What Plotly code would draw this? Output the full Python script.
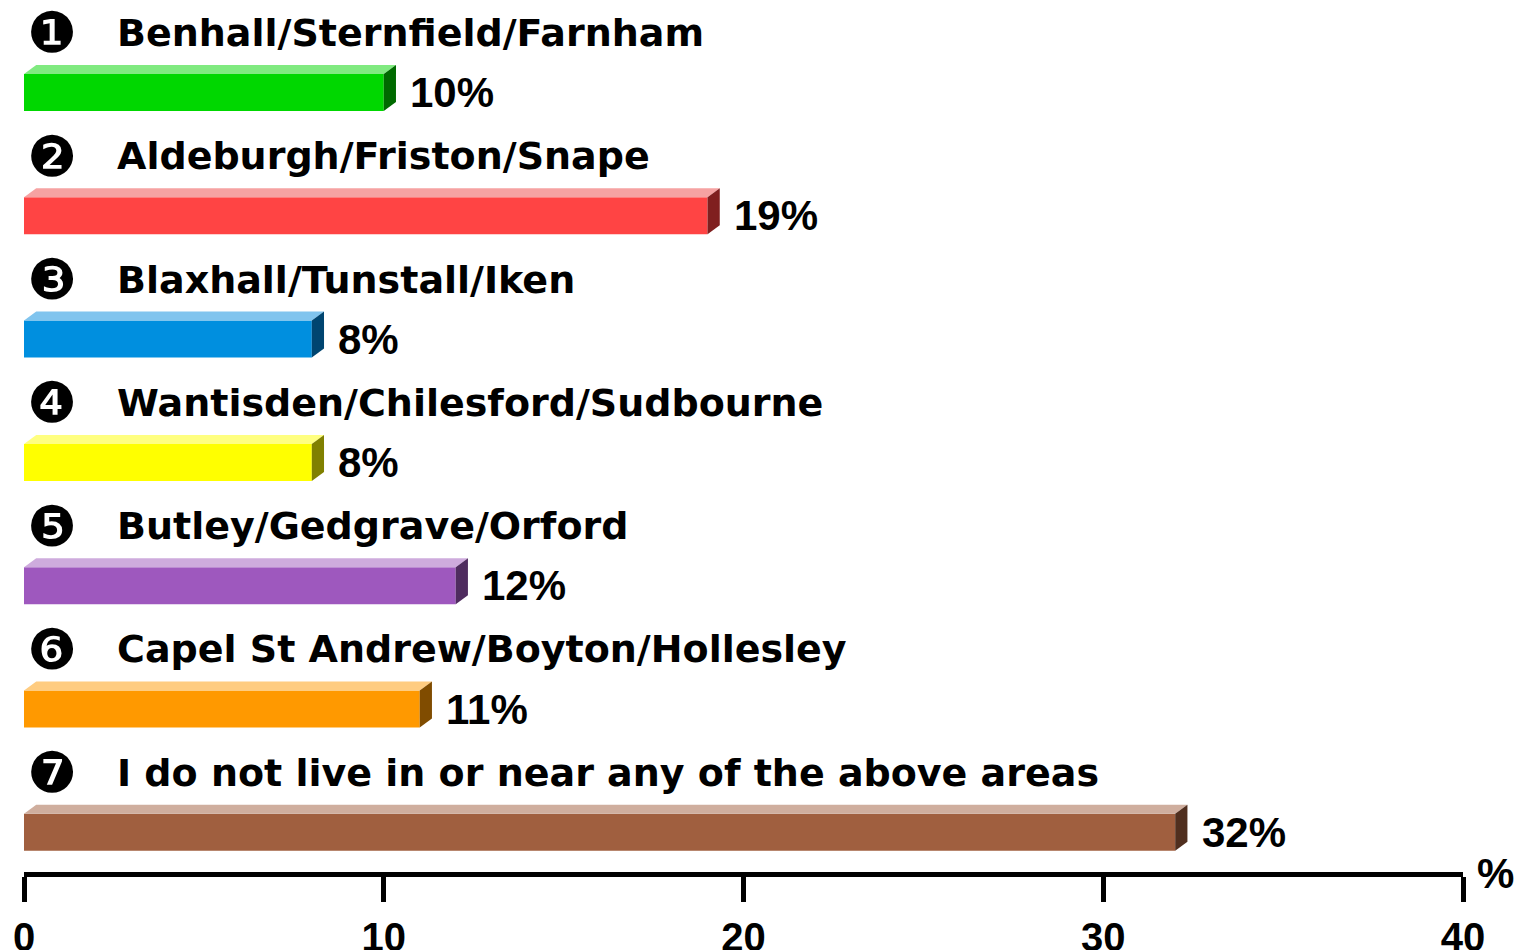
import plotly.graph_objects as go

# ---- data ----
categories = [
    "Benhall/Sternfield/Farnham",
    "Aldeburgh/Friston/Snape",
    "Blaxhall/Tunstall/Iken",
    "Wantisden/Chilesford/Sudbourne",
    "Butley/Gedgrave/Orford",
    "Capel St Andrew/Boyton/Hollesley",
    "I do not live in or near any of the above areas",
]
markers = ["❶", "❷", "❸", "❹", "❺", "❻", "❼"]
values = [10, 19, 8, 8, 12, 11, 32]
value_labels = ["10%", "19%", "8%", "8%", "12%", "11%", "32%"]
tick_values = [0, 10, 20, 30, 40]
tick_labels = ["0", "10", "20", "30", "40"]

front_colors = ["#00D700", "#FF4444", "#008FDF", "#FFFF00", "#9E58BE", "#FF9900", "#A05F3F"]
top_colors = ["#80EA80", "#F6A2A2", "#80C4EE", "#FFFF80", "#CEABDD", "#FFCC80", "#CFAE9E"]
side_colors = ["#006A00", "#801F1F", "#004570", "#808000", "#4F2C5F", "#804C00", "#502F1F"]

# ---- geometry (axis units) ----
H = 0.30      # bar thickness
DX = 0.34     # depth offset in x units
DY = 0.073    # depth offset in y units (reversed axis)
FONT = "Liberation Sans, Arial, sans-serif"
LABEL_FONT = "DejaVu Sans, Liberation Sans, sans-serif"

L, R, T, B = 24, 61, 0, 78
W, HT = 1524, 950

idx = list(range(len(values)))

fig = go.Figure()
fig.add_trace(go.Bar(
    x=values, y=idx, orientation="h", width=H,
    marker=dict(color=front_colors, line=dict(width=0)),
    hoverinfo="skip",
))

for i, v in enumerate(values):
    yt = i - H / 2
    yb = i + H / 2
    fig.add_trace(go.Scatter(
        x=[0, v, v + DX, DX, 0], y=[yt, yt, yt - DY, yt - DY, yt],
        fill="toself", fillcolor=top_colors[i], mode="lines",
        line=dict(width=0, color=top_colors[i]), hoverinfo="skip",
    ))
    fig.add_trace(go.Scatter(
        x=[v, v + DX, v + DX, v, v], y=[yt, yt - DY, yb - DY, yb, yt],
        fill="toself", fillcolor=side_colors[i], mode="lines",
        line=dict(width=0, color=side_colors[i]), hoverinfo="skip",
    ))

annotations = []
for i, v in enumerate(values):
    annotations.append(dict(
        x=0.78, y=i - 0.483, xref="x", yref="y", text=markers[i],
        showarrow=False, xanchor="center", yanchor="middle",
        font=dict(family="DejaVu Sans", size=56, color="black"),
    ))
    annotations.append(dict(
        x=2.54, y=i - 0.483, xref="x", yref="y", text="<b>" + categories[i] + "</b>",
        showarrow=False, xanchor="left", yanchor="middle",
        font=dict(family=LABEL_FONT, size=38, color="black"),
    ))
    annotations.append(dict(
        x=v + 0.68, y=i, xref="x", yref="y", text="<b>" + value_labels[i] + "</b>",
        showarrow=False, xanchor="left", yanchor="middle",
        font=dict(family=FONT, size=42, color="black"),
    ))

annotations.append(dict(
    x=(1495 - L) / (W - L - R), y=(HT - B - 873) / (HT - B - T),
    xref="paper", yref="paper", text="<b>%</b>",
    showarrow=False, xanchor="center", yanchor="middle",
    font=dict(family=FONT, size=42, color="black"),
))

fig.update_layout(
    width=W, height=HT,
    margin=dict(l=L, r=R, t=T, b=B, autoexpand=False),
    paper_bgcolor="white", plot_bgcolor="white",
    showlegend=False, hovermode=False,
    annotations=annotations,
    xaxis=dict(
        range=[0, 40], tickvals=tick_values, ticktext=["<b>%s</b>" % t for t in tick_labels],
        showline=True, linewidth=5, linecolor="black",
        ticks="outside", ticklen=25, tickwidth=5, tickcolor="black",
        ticklabelstandoff=1,
        showgrid=False, zeroline=False, automargin=False,
        tickfont=dict(family=FONT, size=40, color="black"),
        fixedrange=True,
    ),
    yaxis=dict(
        range=[(HT - B - T - 92.5) / 123.3, -92.5 / 123.3],
        showticklabels=False, showgrid=False, zeroline=False, showline=False,
        fixedrange=True, automargin=False,
    ),
)

fig.write_html(
    "out.html",
    config={"displayModeBar": False},
    post_script="document.body.style.margin='0';document.body.style.overflow='hidden';",
)
